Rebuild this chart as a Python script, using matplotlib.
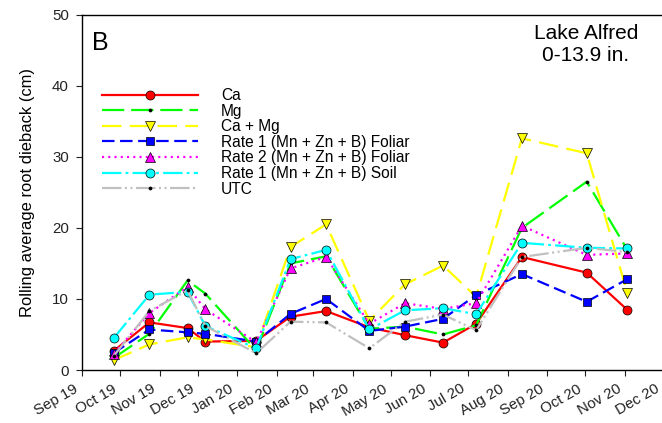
import pandas as pd
import matplotlib
matplotlib.use('Agg')
import matplotlib.pyplot as plt
import matplotlib.dates as mdates
import matplotlib.transforms as mtransforms

plt.rcParams['font.family'] = ['Liberation Sans', 'DejaVu Sans']
plt.rcParams['lines.scale_dashes'] = False

# sampling dates (rolling average windows)
dates = pd.to_datetime(['2019-09-26', '2019-10-24', '2019-11-23', '2019-12-07',
                        '2020-01-16', '2020-02-12', '2020-03-11', '2020-04-14',
                        '2020-05-12', '2020-06-11', '2020-07-07', '2020-08-12',
                        '2020-10-02', '2020-11-03'])

ca = [2.7, 6.7, 5.9, 4.0, 4.1, 7.5, 8.3, 6.0, 4.9, 3.85, 6.5, 15.9, 13.7, 8.45]
mg = [1.7, 5.1, 12.6, 10.75, 2.8, 15.0, 16.0, 5.8, 6.1, 5.0, 6.3, 20.0, 26.5, 16.9]
ca_mg = [1.4, 3.6, 4.6, 4.3, 3.2, 17.3, 20.5, 6.95, 12.05, 14.7, 10.3, 32.6, 30.5, 10.8]
rate1_foliar = [2.4, 5.7, 5.3, 5.1, 4.0, 7.9, 10.0, 5.5, 6.1, 7.2, 10.55, 13.5, 9.6, 12.8]
rate2_foliar = [2.3, 8.0, 11.7, 8.55, 3.9, 14.3, 15.9, 6.5, 9.4, 8.6, 9.4, 20.3, 16.2, 16.4]
rate1_soil = [4.5, 10.6, 11.0, 6.2, 3.05, 15.6, 16.9, 5.7, 8.4, 8.7, 7.85, 17.9, 17.2, 17.1]
utc = [2.0, 8.3, 11.2, 6.2, 2.35, 6.8, 6.7, 3.05, 6.8, 7.8, 5.6, 15.9, 17.2, 16.6]

labels = ['Ca', 'Mg', 'Ca + Mg', 'Rate 1 (Mn + Zn + B) Foliar',
          'Rate 2 (Mn + Zn + B) Foliar', 'Rate 1 (Mn + Zn + B) Soil', 'UTC']

month_ticks = pd.date_range('2019-09-01', '2020-12-01', freq='MS')

fig = plt.figure(figsize=(6.62, 4.23), dpi=100)
W, H = 662, 423
ax = fig.add_axes([82 / W, 53 / H, 595 / W, 355.3 / H])

# (values, color, dashes, marker, markersize)
series = [
    (ca, '#ff0000', None, 'o', 6.5),
    (mg, '#00ff00', (16, 5), 'o', 2.2),
    (ca_mg, '#ffff00', (14, 6), 'v', 7),
    (rate1_foliar, '#0000ff', (9, 4), 's', 6),
    (rate2_foliar, '#ff00ff', (1.5, 3), '^', 7),
    (rate1_soil, '#00ffff', (14, 3, 2, 3), 'o', 6.5),
    (utc, '#c0c0c0', (14, 2.5, 1.5, 2.5, 1.5, 2.5), 'o', 2.2),
]

for (vals, col, dash, mk, ms), lab in zip(series, labels):
    small = ms < 3
    line, = ax.plot(dates, vals, color=col, lw=1.6, marker=mk, ms=ms,
                    mfc='black' if small else col, mec='black',
                    mew=0.5, label=lab)
    if dash is not None:
        line.set_dashes(dash)

ax.set_ylim(0, 50)
ax.set_yticks(range(0, 51, 10))
ax.set_xlim(pd.Timestamp('2019-09-01'), pd.Timestamp('2020-12-12'))
ax.set_xticks(month_ticks)
ax.xaxis.set_major_formatter(mdates.DateFormatter('%b %y'))

ax.tick_params(axis='both', direction='out', length=4.5, width=0.8,
               labelsize=10.8, colors='#222222', labelcolor='#222222')
ax.tick_params(axis='y', pad=5)
ax.tick_params(axis='x', pad=4)

# slanted month labels, nudged left so they end at their tick
shift = mtransforms.ScaledTranslation(-6 / 72, 0, fig.dpi_scale_trans)
for t in ax.get_xticklabels():
    t.set_rotation(30)
    t.set_ha('right')
    t.set_rotation_mode('anchor')
    t.set_transform(t.get_transform() + shift)

ax.spines['right'].set_visible(False)
for s in ['left', 'bottom', 'top']:
    ax.spines[s].set_linewidth(1.0)

ax.set_ylabel('Rolling average root dieback (cm)', fontsize=11.9, labelpad=12)

leg = ax.legend(loc='upper left', bbox_to_anchor=((102 - 82) / 595, (370 - 88) / 355.3),
                frameon=False, fontsize=11.2, numpoints=1, handlelength=6.2,
                handletextpad=1.45, labelspacing=0.04, borderpad=0, borderaxespad=0)

fig.text(92 / W, 1 - 50 / H, 'B', fontsize=18, va='baseline', ha='left')
fig.text(586 / W, 1 - 39 / H, 'Lake Alfred', fontsize=15, va='baseline', ha='center')
fig.text(586 / W, 1 - 60.7 / H, '0-13.9 in.', fontsize=15, va='baseline', ha='center')

fig.savefig('out.png', dpi=100)
